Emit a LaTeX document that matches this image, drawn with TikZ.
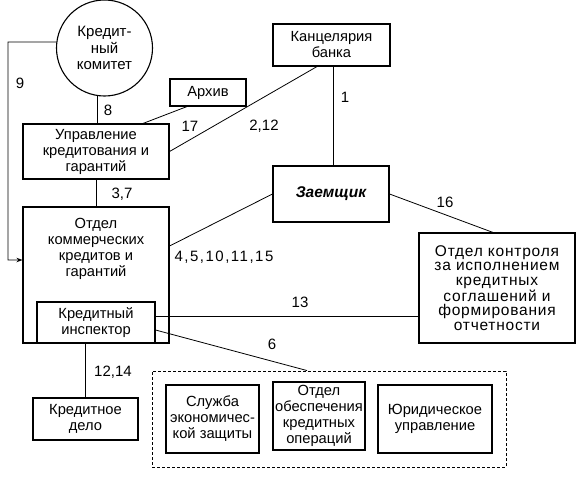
\documentclass[tikz,border=0pt]{standalone}
\usepackage{fontspec}
\setmainfont{Liberation Sans}
\usetikzlibrary{arrows.meta}
\begin{document}
\begin{tikzpicture}[x=1pt,y=-1pt]
\tikzstyle{every node}+=[inner sep=0pt, align=center, font=\fontsize{14.7}{16}\selectfont]
\tikzstyle{box}=[draw, line width=1.1pt]
\tikzstyle{link}=[line width=0.8pt]
\tikzstyle{num}=[font=\fontsize{15}{16}\selectfont]
\useasboundingbox (0,0) rectangle (578,482);
% boxes
\node [box, circle, minimum size=96pt, font=\fontsize{15}{16.5}\selectfont] (kom) at (104.5,48) {Кредит-\\ный\\комитет};
\node [box, minimum width=76pt, minimum height=27pt] (arch) at (208,92.5) {Архив};
\node [box, minimum width=146pt, minimum height=55pt] (uprav) at (96,151.5) {Управление\\кредитования и\\гарантий};
\node [box, minimum width=117pt, minimum height=42pt] (kanc) at (331.5,45) {Канцелярия\\банка};
\node [box, minimum width=116pt, minimum height=56pt, font=\fontsize{15.5}{16}\selectfont\bfseries\itshape] (zaem) at (331,194) {Заемщик};
\node [box, minimum width=146pt, minimum height=136pt] (otdel) at (96,275) {};
\node (otdeltext) at (96,249) {Отдел\\коммерческих\\кредитов и\\гарантий};
\node [box, minimum width=118pt, minimum height=41pt] (insp) at (96,322.5) {Кредитный\\инспектор};
\node [box, minimum width=156pt, minimum height=110pt, font=\fontsize{15.5}{14.7}\selectfont\addfontfeature{LetterSpace=5}] (kontr) at (497,288) {Отдел контроля\\за исполнением\\кредитных\\соглашений и\\формирования\\отчетности};
\node [box, minimum width=105pt, minimum height=42pt] (delo) at (85.5,419) {Кредитное\\дело};
\node [draw, line width=0.9pt, dash pattern=on 3pt off 2pt, minimum width=354pt, minimum height=96pt] (group) at (329,419) {};
\node [box, minimum width=93pt, minimum height=68pt] (econ) at (212.5,419) {Служба\\экономичес-\\кой защиты};
\node [box, minimum width=92pt, minimum height=68pt] (obesp) at (319,416) {Отдел\\обеспечения\\кредитных\\операций};
\node [box, minimum width=114pt, minimum height=68pt] (yur) at (435,419) {Юридическое\\управление};
% connectors
\coordinate (bend9) at (8,42);
\draw [link, -{Stealth[length=6pt,width=4.5pt]}] (kom.173) -- (bend9) |- ([yshift=15pt]otdel.west);
\draw [link] (kom.262) -- (kom.262 |- uprav.north);
\draw [link] ([xshift=-21pt]arch.south) -- ([xshift=47pt]uprav.north);
\draw [link] ([xshift=-14.5pt]kanc.south) -- (uprav.east);
\draw [link] ([xshift=1.5pt]kanc.south) -- ([xshift=1.5pt]kanc.south |- zaem.north);
\draw [link] (uprav.south) -- (otdel.north);
\draw [link] ([yshift=29pt]otdel.east) -- (zaem.west);
\draw [link] (zaem.east) -- ([xshift=-4pt]kontr.north);
\draw [link] ([yshift=6.5pt]insp.east) -- ([yshift=6.5pt]insp.east -| kontr.west);
\draw [link] ([yshift=-7.5pt]insp.east) -- ([xshift=-22pt]group.north);
\draw [link] (delo.north |- otdel.south) -- (delo.north);
% numbers
\node [num] (n9) at (20,83) {9};
\node [num] (n8) at (108,110) {8};
\node [num] (n17) at (190,126) {17};
\node [num] (n212) at (264,126) {2,12};
\node [num] (n1) at (345,97) {1};
\node [num] (n37) at (122,194) {3,7};
\node [num, font=\fontsize{15}{16}\selectfont\addfontfeature{LetterSpace=10}] (n4) at (224,257) {4,5,10,11,15};
\node [num] (n16) at (445,202) {16};
\node [num] (n13) at (300,302) {13};
\node [num] (n6) at (272,344) {6};
\node [num] (n1214) at (113,372) {12,14};
\end{tikzpicture}
\end{document}
